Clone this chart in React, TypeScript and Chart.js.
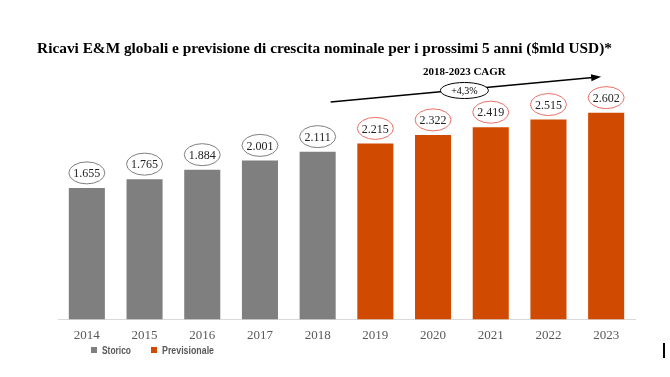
import React, { useEffect, useRef } from "react";
import { Chart, registerables } from "chart.js";

Chart.register(...registerables);

const categories = ["2014", "2015", "2016", "2017", "2018", "2019", "2020", "2021", "2022", "2023"];
const storico = [1655, 1765, 1884, 2001, 2111, null, null, null, null, null];
const previsionale = [null, null, null, null, null, 2215, 2322, 2419, 2515, 2602];
const titleText = "Ricavi E&M globali e previsione di crescita nominale per i prossimi 5 anni ($mld USD)*";
const cagrTitle = "2018-2023 CAGR";
const cagrLabel = "+4,3%";
const legendLabels = ["Storico", "Previsionale"];

const GRAY = "#7f7f7f";
const ORANGE = "#d04a02";
const RED_RING = "#ea6f67";
const SERIF = "'Liberation Serif', 'DejaVu Serif', serif";

function fmt(v: number): string {
  return Math.floor(v / 1000) + "." + String(v % 1000).padStart(3, "0");
}

const overlay = {
  id: "overlay",
  afterDraw(chart: any) {
    const ctx = chart.ctx as CanvasRenderingContext2D;
    const xs = chart.scales.x;
    ctx.save();

    // Title
    let size = 17;
    ctx.font = `bold ${size}px ${SERIF}`;
    const w = ctx.measureText(titleText).width;
    size = size * 575 / w;
    ctx.font = `bold ${size}px ${SERIF}`;
    ctx.fillStyle = "#000";
    ctx.textAlign = "center";
    ctx.textBaseline = "middle";
    ctx.fillText(titleText, 324.5, 49);

    // Value ellipses
    chart.data.datasets.forEach((ds: any, di: number) => {
      const meta = chart.getDatasetMeta(di);
      meta.data.forEach((el: any, i: number) => {
        const v = ds.data[i];
        if (v == null) return;
        const cx = el.x;
        const cy = el.y - 15;
        ctx.beginPath();
        ctx.ellipse(cx, cy, 18, 11, 0, 0, Math.PI * 2);
        ctx.fillStyle = "#fff";
        ctx.fill();
        ctx.lineWidth = 1;
        ctx.strokeStyle = di === 0 ? GRAY : RED_RING;
        ctx.stroke();
        ctx.fillStyle = "#222";
        ctx.font = `12px ${SERIF}`;
        ctx.textAlign = "center";
        ctx.textBaseline = "middle";
        ctx.fillText(fmt(v), cx, cy + 1);
      });
    });

    // CAGR arrow
    const x0 = xs.getPixelForValue(4) + 13;
    const y0 = 102;
    const x1 = xs.getPixelForValue(9) - 8;
    const y1 = 77;
    ctx.strokeStyle = "#000";
    ctx.lineWidth = 1.5;
    ctx.beginPath();
    ctx.moveTo(x0, y0);
    ctx.lineTo(x1, y1);
    ctx.stroke();
    const ang = Math.atan2(y1 - y0, x1 - x0);
    ctx.beginPath();
    ctx.moveTo(x1 + 3 * Math.cos(ang), y1 + 3 * Math.sin(ang));
    ctx.lineTo(x1 - 7 * Math.cos(ang) + 3.5 * Math.sin(ang), y1 - 7 * Math.sin(ang) - 3.5 * Math.cos(ang));
    ctx.lineTo(x1 - 7 * Math.cos(ang) - 3.5 * Math.sin(ang), y1 - 7 * Math.sin(ang) + 3.5 * Math.cos(ang));
    ctx.closePath();
    ctx.fillStyle = "#000";
    ctx.fill();

    const mx = (x0 + x1) / 2;
    const my = (y0 + y1) / 2 + 1;
    ctx.beginPath();
    ctx.ellipse(mx, my, 24, 8, 0, 0, Math.PI * 2);
    ctx.fillStyle = "#fff";
    ctx.fill();
    ctx.lineWidth = 1;
    ctx.strokeStyle = "#000";
    ctx.stroke();
    ctx.fillStyle = "#000";
    ctx.font = `10px ${SERIF}`;
    ctx.textAlign = "center";
    ctx.textBaseline = "middle";
    ctx.fillText(cagrLabel, mx, my + 0.5);

    ctx.font = `bold 11px ${SERIF}`;
    ctx.fillText(cagrTitle, mx, 72);

    // Legend
    const legendColors = [GRAY, ORANGE];
    const legendX = [91, 151];
    const legendW = [29, 52];
    ctx.font = `bold 11px 'Liberation Sans', sans-serif`;
    ctx.textAlign = "left";
    ctx.textBaseline = "middle";
    legendLabels.forEach((lab, i) => {
      ctx.fillStyle = legendColors[i];
      ctx.fillRect(legendX[i], 347, 6, 6);
      ctx.fillStyle = "#595959";
      const tw = ctx.measureText(lab).width;
      ctx.save();
      ctx.translate(legendX[i] + 11, 350.5);
      ctx.scale(legendW[i] / tw, 1);
      ctx.fillText(lab, 0, 0);
      ctx.restore();
    });

    // small artifact at right edge
    ctx.fillStyle = "#000";
    ctx.fillRect(663, 343, 2, 15);

    ctx.restore();
  },
};

export default function App() {
  const ref = useRef<HTMLCanvasElement>(null);
  useEffect(() => {
    if (!ref.current) return;
    const chart = new Chart(ref.current, {
      type: "bar",
      data: {
        labels: categories,
        datasets: [
          { label: legendLabels[0], data: storico as any, backgroundColor: GRAY, borderWidth: 0 },
          { label: legendLabels[1], data: previsionale as any, backgroundColor: ORANGE, borderWidth: 0 },
        ],
      },
      options: {
        responsive: false,
        animation: false,
        layout: { padding: { left: 58, right: 35, top: 81, bottom: 26 } },
        datasets: { bar: { categoryPercentage: 1, barPercentage: 0.625 } },
        plugins: { legend: { display: false }, tooltip: { enabled: false }, title: { display: false } },
        scales: {
          x: {
            stacked: true,
            grid: { display: false, drawTicks: false },
            border: { display: true, color: "#d9d9d9", width: 1 },
            ticks: { color: "#595959", font: { family: SERIF, size: 13 }, padding: 8 },
          },
          y: { stacked: true, display: false, min: 0, max: 3000 },
        },
      },
      plugins: [overlay],
    });
    return () => chart.destroy();
  }, []);
  return (
    <div style={{ position: "fixed", left: 0, top: 0, width: 670, height: 377, background: "#fff" }}>
      <canvas ref={ref} width={670} height={377} />
    </div>
  );
}
